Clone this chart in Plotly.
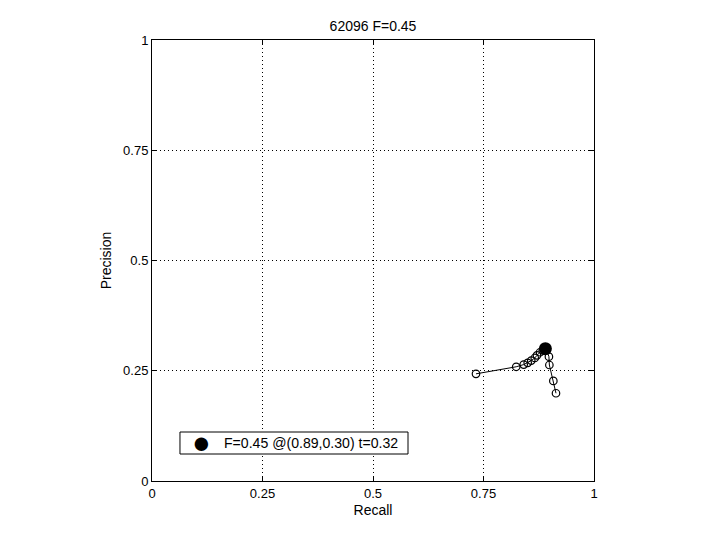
import plotly.graph_objects as go

recall = [0.914, 0.908, 0.899, 0.898, 0.893, 0.884, 0.878, 0.871, 0.866, 0.858, 0.850, 0.841, 0.824, 0.733]
precision = [0.199, 0.227, 0.263, 0.282, 0.297, 0.296, 0.292, 0.285, 0.279, 0.273, 0.268, 0.264, 0.259, 0.243]
best_r, best_p = [0.89], [0.30]
title_text = "62096 F=0.45"
legend_text = "F=0.45 @(0.89,0.30) t=0.32"
tick_vals = [0, 0.25, 0.5, 0.75, 1]
tick_text = ["0", "0.25", "0.5", "0.75", "1"]

fig = go.Figure()
fig.add_trace(go.Scatter(
    x=recall, y=precision, mode="lines+markers", showlegend=False,
    line=dict(color="black", width=1),
    marker=dict(symbol="circle-open", size=7.5, color="black", line=dict(width=1.2)),
))
fig.add_trace(go.Scatter(
    x=best_r, y=best_p, mode="markers", showlegend=False,
    marker=dict(symbol="circle", size=13, color="black"),
))

axis_common = dict(
    range=[0, 1], tickvals=tick_vals, ticktext=tick_text,
    showgrid=True, gridcolor="black", griddash="1px,3px", gridwidth=1,
    showline=True, linecolor="black", linewidth=1, mirror="ticks",
    ticks="inside", ticklen=5, tickcolor="black",
    zeroline=False, tickfont=dict(size=13, color="black"),
)
fig.update_xaxes(**axis_common, title=dict(text="Recall", font=dict(size=14, color="black"), standoff=5))
fig.update_yaxes(**axis_common, title=dict(text="Precision", font=dict(size=14, color="black"), standoff=8))

# MATLAB-style legend: box shape + symbol + label
fig.add_shape(type="rect", xref="paper", yref="paper",
              x0=0.0633, x1=0.5792, y0=0.0612, y1=0.1111,
              line=dict(color="black", width=1), fillcolor="white", layer="above")
fig.add_annotation(
    xref="paper", yref="paper", x=0.1131, y=0.0862, xanchor="center", yanchor="middle",
    text="\u25CF", showarrow=False, font=dict(size=31, color="black"),
)
fig.add_annotation(
    xref="paper", yref="paper", x=0.1584, y=0.0862, xanchor="left", yanchor="middle",
    text=legend_text, showarrow=False, font=dict(size=14.1, color="black"),
)

fig.update_layout(
    width=720, height=540,
    margin=dict(l=144, r=134, t=32, b=67),
    paper_bgcolor="white", plot_bgcolor="white",
    font=dict(family="Liberation Sans, Arial, sans-serif", color="black"),
    title=dict(text=title_text, x=(144 + 586) / 2 / 720, xanchor="center", y=1 - 18 / 540, yanchor="middle",
               font=dict(size=14, color="black")),
    showlegend=False,
)

fig.write_html("out.html")
